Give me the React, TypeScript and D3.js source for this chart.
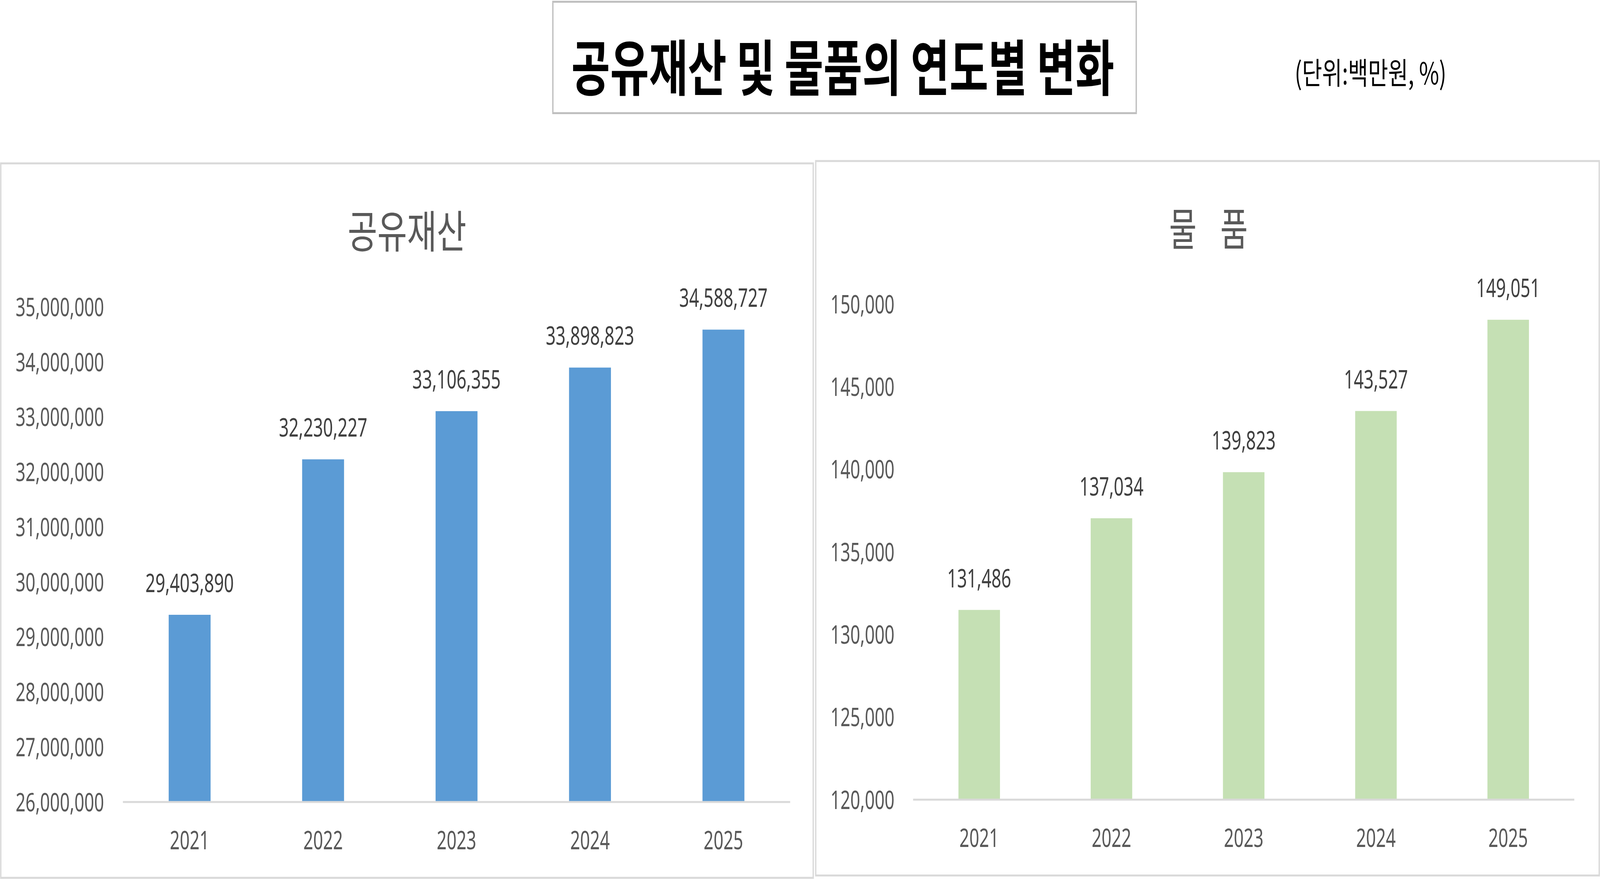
import React from "react";
import * as d3 from "d3";

const years = ["2021", "2022", "2023", "2024", "2025"];
const publicProperty = [29403890, 32230227, 33106355, 33898823, 34588727];
const goods = [131486, 137034, 139823, 143527, 149051];
const publicTicks = [26000000, 27000000, 28000000, 29000000, 30000000, 31000000, 32000000, 33000000, 34000000, 35000000];
const goodsTicks = [120000, 125000, 130000, 135000, 140000, 145000, 150000];

const mainTitle = "공유재산 및 물품의 연도별 변화";
const unitText = "(단위:백만원, %)";
const leftTitle = "공유재산";
const rightTitle = "물 품";

const W = 6105;
const H = 2249;
const LATIN = "'Noto Sans', 'Liberation Sans', sans-serif";
const CJK = "'Noto Sans CJK KR', 'Noto Sans', sans-serif";
const fmt = d3.format(",");

type PanelProps = {
  px: number; py: number; pw: number; ph: number;
  title: string; titleX: number; titleY: number; titleLen: number; titleAdjust: string;
  values: number[]; ticks: number[]; domain: [number, number];
  x0: number; x1: number; yTop: number; yBottom: number;
  labelX: number; yearY: number; color: string;
};

function Panel(p: PanelProps) {
  const x = d3.scaleBand<string>().domain(years).range([p.x0, p.x1]).paddingInner(0.686).paddingOuter(0.343);
  const y = d3.scaleLinear().domain(p.domain).range([p.yBottom, p.yTop]);
  const fs = 66;
  return (
    <g>
      <rect x={p.px} y={p.py} width={p.pw} height={p.ph} fill="#ffffff" stroke="#d9d9d9" strokeWidth={5} />
      <text x={p.titleX} y={p.titleY} textAnchor="middle" fontFamily={CJK} fontSize={114} fill="#595959"
        textLength={p.titleLen} lengthAdjust={p.titleAdjust} style={{ whiteSpace: "pre" }}>
        {p.title}
      </text>
      {p.ticks.map((t) => (
        <text key={t} x={p.labelX} y={y(t) + 0.357 * fs} textAnchor="end" fontFamily={LATIN} fontSize={fs} fill="#595959">
          {fmt(t)}
        </text>
      ))}
      {p.values.map((v, i) => {
        const yr = years[i];
        const bx = x(yr) as number;
        return (
          <g key={yr}>
            <rect x={bx} y={y(v)} width={x.bandwidth()} height={y(p.domain[0]) - y(v)} fill={p.color} />
            <text x={bx + x.bandwidth() / 2} y={y(v) - 58} textAnchor="middle" fontFamily={LATIN} fontSize={fs} fill="#404040">
              {fmt(v)}
            </text>
            <text x={bx + x.bandwidth() / 2} y={p.yearY} textAnchor="middle" fontFamily={LATIN} fontSize={fs} fill="#595959">
              {yr}
            </text>
          </g>
        );
      })}
      <line x1={p.x0} x2={p.x1} y1={y(p.domain[0])} y2={y(p.domain[0])} stroke="#d9d9d9" strokeWidth={5} />
    </g>
  );
}

export default function App() {
  return (
    <svg viewBox={`0 0 ${W} ${H}`} preserveAspectRatio="none"
      style={{ position: "fixed", left: 0, top: 0, width: "100vw", height: "100vh", display: "block", background: "#ffffff" }}>
      <rect x={0} y={0} width={W} height={H} fill="#ffffff" />
      <rect x={2109.5} y={4.5} width={2226} height={285} fill="#ffffff" stroke="#bfbfbf" strokeWidth={5} />
      <text x={3216} y={231} textAnchor="middle" fontFamily={CJK} fontWeight={700} fontSize={155} fill="#000000"
        textLength={2072} lengthAdjust="spacingAndGlyphs">
        {mainTitle}
      </text>
      <text x={4940} y={216} textAnchor="start" fontFamily={CJK} fontSize={78} fill="#000000"
        textLength={579} lengthAdjust="spacingAndGlyphs">
        {unitText}
      </text>
      <Panel px={3} py={418} pw={3100} ph={1828}
        title={leftTitle} titleX={1553} titleY={634} titleLen={453} titleAdjust="spacingAndGlyphs"
        values={publicProperty} ticks={publicTicks} domain={[26000000, 35000000]}
        x0={469} x1={3015} yTop={785.5} yBottom={2052}
        labelX={397} yearY={2173} color="#5b9bd5" />
      <Panel px={3112.5} py={412} pw={2989.5} ph={1828}
        title={rightTitle} titleX={4611} titleY={628} titleLen={300} titleAdjust="spacing"
        values={goods} ticks={goodsTicks} domain={[120000, 150000]}
        x0={3484} x1={6007} yTop={778} yBottom={2046}
        labelX={3413} yearY={2167} color="#c5e0b4" />
    </svg>
  );
}
